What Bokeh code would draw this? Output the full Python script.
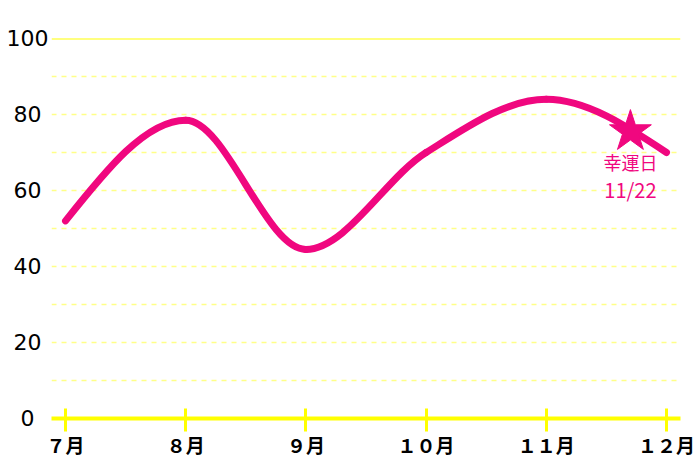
import numpy as np
from bokeh.plotting import figure
from bokeh.models import Range1d, FixedTicker, Span
from bokeh.core.properties import value
from bokeh.embed import file_html
from bokeh.resources import INLINE

months = [7, 8, 9, 10, 11, 12]
month_labels = ["７月", "８月", "９月", "１０月", "１１月", "１２月"]
fortune = [52, 78.5, 44.5, 70, 84, 70]
lucky_x = [11.7]
lucky_y = [75.5]
lucky_text1 = ["幸運日"]
lucky_text2 = ["11/22"]
y_ticks = [0, 20, 40, 60, 80, 100]
y_labels = ["0\u2007", "20\u2008", "40\u2008", "60\u2008", "80\u2008", "100"]

PINK = "#f0077f"
YEL = "#ffff00"
FONT = "Noto Sans CJK JP"

# monotone-x cubic control points (d3 curveMonotoneX style)
x = np.array(months, dtype=float)
y = np.array(fortune, dtype=float)
h = np.diff(x)
s = np.diff(y) / h
n = len(x)
t = np.zeros(n)
for i in range(1, n - 1):
    p_ = (s[i - 1] * h[i] + s[i] * h[i - 1]) / (h[i - 1] + h[i])
    t[i] = (np.sign(s[i - 1]) + np.sign(s[i])) * min(abs(s[i - 1]), abs(s[i]), 0.5 * abs(p_))
t[0] = (3 * s[0] - t[1]) / 2
t[-1] = (3 * s[-1] - t[-2]) / 2
x0, y0, x1, y1 = x[:-1], y[:-1], x[1:], y[1:]
cx0 = x0 + h / 3
cy0 = y0 + h * t[:-1] / 3
cx1 = x1 - h / 3
cy1 = y1 - h * t[1:] / 3

p = figure(width=696, height=462, output_backend="svg", toolbar_location=None,
           x_range=Range1d(7 - 14 / 120, 12 + 14 / 120), y_range=Range1d(0, 100),
           min_border_left=51, min_border_right=16, min_border_top=38, min_border_bottom=44)
p.outline_line_color = None
p.background_fill_color = "white"

# grid
p.ygrid.ticker = FixedTicker(ticks=[10, 20, 30, 40, 50, 60, 70, 80, 90])
p.ygrid.grid_line_color = "#ffff88"
p.ygrid.grid_line_width = 1.5
p.ygrid.grid_line_dash = "5 5"
p.xgrid.grid_line_color = None
p.add_layout(Span(location=100, dimension="width", line_color=YEL, line_width=2))

# x axis
p.xaxis.ticker = FixedTicker(ticks=months)
p.xaxis.major_label_overrides = {m: l for m, l in zip(months, month_labels)}
p.xaxis.axis_line_color = YEL
p.xaxis.axis_line_width = 4
p.xaxis.major_tick_line_color = YEL
p.xaxis.major_tick_line_width = 3
p.xaxis.major_tick_in = 10
p.xaxis.major_tick_out = 13
p.xaxis.minor_tick_line_color = None
p.xaxis.minor_tick_in = 0
p.xaxis.minor_tick_out = 0
p.xaxis.major_label_text_font = "DejaVu Sans, Noto Sans CJK JP"
p.xaxis.major_label_text_font_size = "19px"
p.xaxis.major_label_text_font_style = "bold"
p.xaxis.major_label_text_color = "black"
p.xaxis.major_label_standoff = 3

# y axis
p.yaxis.ticker = FixedTicker(ticks=y_ticks)
p.yaxis.major_label_overrides = {v: l for v, l in zip(y_ticks, y_labels)}
p.yaxis.axis_line_color = None
p.yaxis.major_tick_line_color = None
p.yaxis.major_tick_in = 0
p.yaxis.major_tick_out = 0
p.yaxis.minor_tick_line_color = None
p.yaxis.minor_tick_in = 0
p.yaxis.minor_tick_out = 0
p.yaxis.major_label_text_font = "DejaVu Sans"
p.yaxis.major_label_text_font_size = "22px"
p.yaxis.major_label_text_color = "black"
p.yaxis.major_label_standoff = 3

# curve
p.bezier(x0=x0, y0=y0, x1=x1, y1=y1, cx0=cx0, cy0=cy0, cx1=cx1, cy1=cy1,
         line_color=PINK, line_width=7, line_cap="round")

# lucky day
p.scatter(lucky_x, lucky_y, marker="star", size=44, fill_color=PINK, line_color=PINK)
p.text(lucky_x, lucky_y, text=lucky_text1, text_color=PINK, text_font=value(FONT),
       text_font_size="18px", text_align="center", text_baseline="middle", y_offset=30)
p.text(lucky_x, lucky_y, text=lucky_text2, text_color=PINK, text_font=value(FONT),
       text_font_size="20px", text_align="center", text_baseline="middle", y_offset=58)

open("out.html", "w").write(file_html(p, INLINE))
